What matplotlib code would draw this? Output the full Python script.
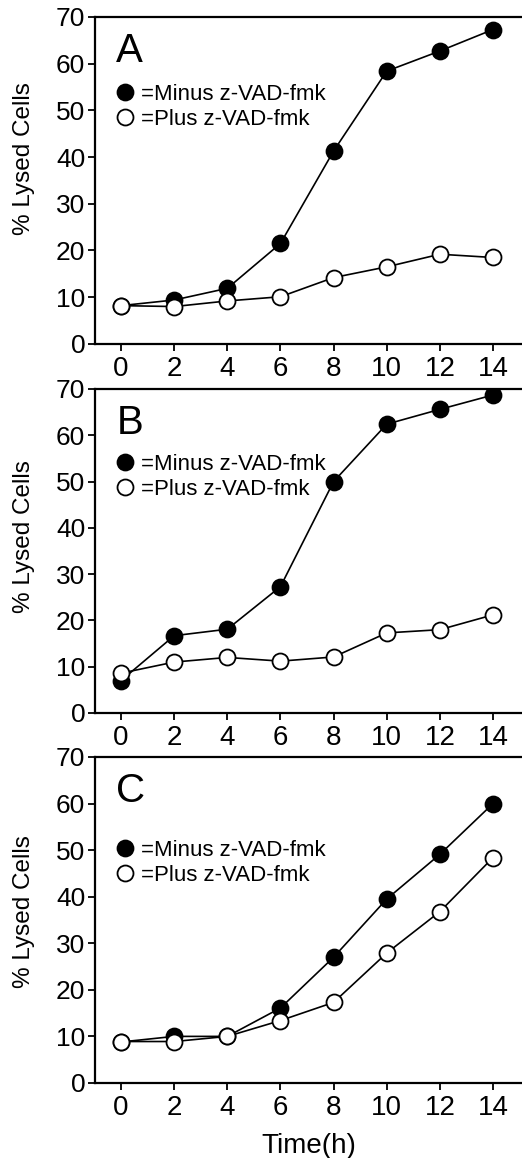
import matplotlib
matplotlib.use("Agg")
import matplotlib.pyplot as plt

# time points (h)
tiempo = [0, 2, 4, 6, 8, 10, 12, 14]

# % lysed cells
a_menos = [8.2, 9.4, 11.9, 21.5, 41.3, 58.4, 62.7, 67.3]
a_mas = [8.2, 8.0, 9.2, 10.1, 14.2, 16.5, 19.2, 18.5]
b_menos = [7.0, 16.7, 18.1, 27.3, 50.0, 62.4, 65.6, 68.7]
b_mas = [8.6, 11.0, 12.0, 11.2, 12.1, 17.3, 18.0, 21.2]
c_menos = [8.8, 10.0, 10.0, 16.1, 27.0, 39.5, 49.1, 60.0]
c_mas = [8.9, 8.9, 10.0, 13.4, 17.3, 27.9, 36.8, 48.4]

paneles = ["A", "B", "C"]
etiqueta_menos = "=Minus z-VAD-fmk"
etiqueta_mas = "=Plus z-VAD-fmk"
yticks = [0, 10, 20, 30, 40, 50, 60, 70]
xticks = [0, 2, 4, 6, 8, 10, 12, 14]

plt.rcParams['font.family'] = ['Liberation Sans', 'DejaVu Sans']

fig = plt.figure(figsize=(5.22, 11.58), dpi=100)

# axes rectangles [left, bottom, width, height]
posiciones = [
    [0.182, 0.703, 0.818, 0.2824],
    [0.182, 0.3843, 0.818, 0.2798],
    [0.182, 0.0648, 0.818, 0.2815],
]
datos = [(a_menos, a_mas), (b_menos, b_mas), (c_menos, c_mas)]
# where the y label and legend sit in each panel (axes fraction)
ylabel_y = [0.566, 0.543, 0.525]
legend_y = [0.795, 0.80, 0.746]

for i, (pos, letra, (menos, mas)) in enumerate(zip(posiciones, paneles, datos)):
    ax = fig.add_axes(pos)
    l1, = ax.plot(tiempo, menos, color='black', lw=1.2, marker='o', ms=11.5,
                  mfc='black', mec='black', mew=1.3, zorder=3)
    l2, = ax.plot(tiempo, mas, color='black', lw=1.2, marker='o', ms=11.5,
                  mfc='white', mec='black', mew=1.3, zorder=4)
    ax.set_xlim(-0.98, 15.09)
    ax.set_ylim(0, 70)
    ax.set_xticks(xticks)
    ax.set_yticks(yticks)
    ax.tick_params(direction='out', length=5, width=1.3, pad=2)
    ax.tick_params(axis='x', labelsize=20, pad=4)
    ax.tick_params(axis='y', labelsize=19)
    ax.spines['right'].set_visible(False)
    for s in ['left', 'bottom', 'top']:
        ax.spines[s].set_linewidth(1.6)
    ax.set_ylabel('% Lysed Cells', fontsize=17.5)
    ax.yaxis.set_label_coords(-0.14, ylabel_y[i])
    ax.text(0.05, 0.955, letra, transform=ax.transAxes, fontsize=29,
            va='top', ha='left')
    ax.legend([l1, l2], [etiqueta_menos, etiqueta_mas], loc='upper left',
              bbox_to_anchor=(0.055, legend_y[i]), frameon=False,
              handlelength=0.6, handletextpad=0.4, labelspacing=0.17,
              fontsize=16, borderaxespad=0, borderpad=0)
    if letra == "C":
        ax.set_xlabel('Time(h)', fontsize=20)
        ax.xaxis.set_label_coords(0.5, -0.153)

fig.savefig('out.png', dpi=100)
